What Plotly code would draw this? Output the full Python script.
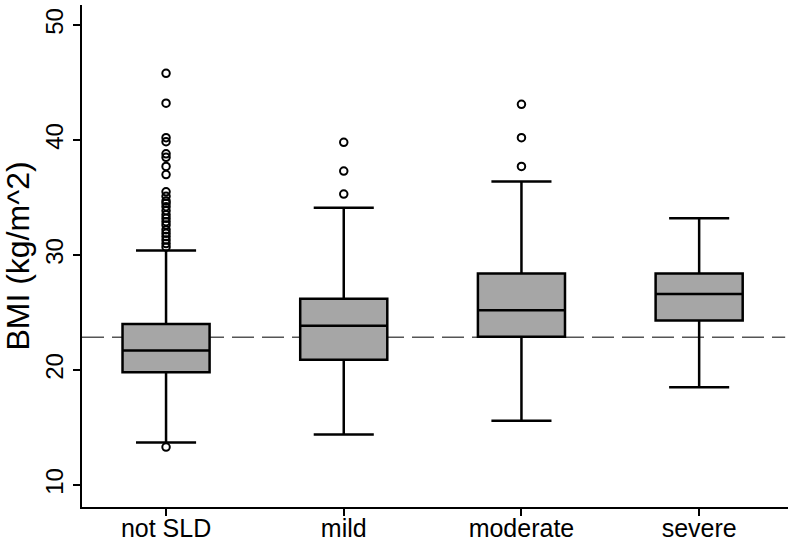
import plotly.graph_objects as go

categories = ["not SLD", "mild", "moderate", "severe"]
q1 = [19.8, 20.9, 22.9, 24.3]
median = [21.7, 23.85, 25.2, 26.6]
q3 = [24.0, 26.2, 28.4, 28.4]
lower_whisker = [13.7, 14.4, 15.6, 18.5]
upper_whisker = [30.4, 34.1, 36.4, 33.2]

outlier_cat = (["not SLD"] * 25) + (["mild"] * 3) + (["moderate"] * 3)
outlier_val = [
    45.8, 43.2, 40.2, 39.85, 38.8, 38.5, 37.7, 37.0, 35.5, 35.1, 34.7, 34.5,
    34.2, 33.85, 33.5, 33.2, 32.9, 32.6, 32.2, 31.9, 31.6, 31.3, 31.0, 30.7,
    13.3,
    39.8, 37.3, 35.3,
    43.1, 40.2, 37.7,
]
reference_bmi = 22.85
y_ticks = [10, 20, 30, 40, 50]

FONT = "Liberation Sans, Arial, sans-serif"

fig = go.Figure()
for i, c in enumerate(categories):
    fig.add_trace(go.Box(
        x=[c], q1=[q1[i]], median=[median[i]], q3=[q3[i]],
        lowerfence=[lower_whisker[i]], upperfence=[upper_whisker[i]],
        fillcolor="#a6a6a6", line=dict(color="black", width=2.5),
        width=0.49, whiskerwidth=0.69, boxpoints=False, showlegend=False,
    ))

fig.add_trace(go.Scatter(
    x=outlier_cat, y=outlier_val, mode="markers",
    marker=dict(symbol="circle-open", size=7.5, color="black", line=dict(width=2)),
    showlegend=False, cliponaxis=False,
))

fig.add_shape(type="line", xref="paper", yref="y", x0=0, x1=0.996,
              y0=reference_bmi, y1=reference_bmi,
              line=dict(color="#555555", width=1.6, dash="22px,8px"), layer="below")

fig.update_layout(
    width=788, height=548,
    margin=dict(l=82, r=0, t=5, b=41, autoexpand=False),
    paper_bgcolor="white", plot_bgcolor="white",
    boxmode="overlay",
    font=dict(family=FONT, color="black"),
    xaxis=dict(
        type="category", categoryorder="array", categoryarray=categories,
        range=[-0.473, 3.5], showline=True, linecolor="black", linewidth=2,
        ticks="outside", ticklen=7, tickwidth=1.5, tickcolor="black",
        tickfont=dict(size=25), ticklabelstandoff=-9,
        showgrid=False, zeroline=False, automargin=False,
    ),
    yaxis=dict(
        range=[8.09, 51.74], tickvals=y_ticks, tickangle=-90,
        showline=True, linecolor="black", linewidth=2,
        ticks="outside", ticklen=7, tickwidth=1.5, tickcolor="black",
        tickfont=dict(size=24), showgrid=False, zeroline=False, automargin=False,
        title=dict(text="BMI (kg/m^2)", font=dict(size=32), standoff=8),
    ),
)

fig.write_html("out.html", config={"displayModeBar": False},
               post_script="document.body.style.margin='0px';")
